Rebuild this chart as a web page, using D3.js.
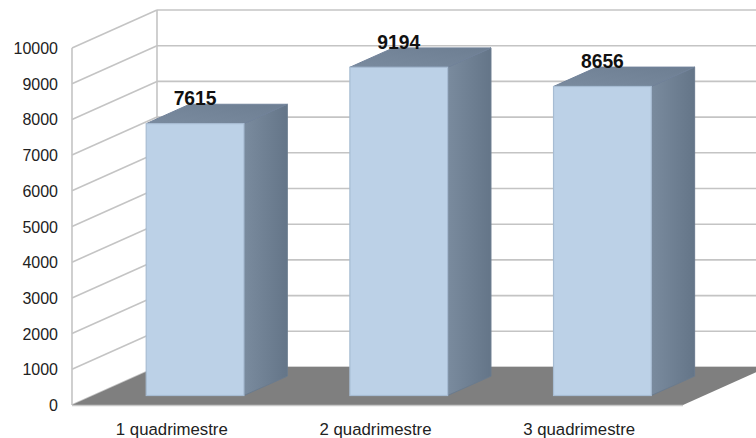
<!DOCTYPE html>
<html><head><meta charset="utf-8">
<script src="https://cdn.jsdelivr.net/npm/d3@7"></script>
<style>body{margin:0;background:#fff}svg{display:block}</style>
</head><body>
<svg id="c" width="756" height="438"></svg>
<script>
const categories = ["1 quadrimestre", "2 quadrimestre", "3 quadrimestre"];
const values = [7615, 9194, 8656];
const yTicks = [0,1000,2000,3000,4000,5000,6000,7000,8000,9000,10000];

const svg = d3.select("#c");
const DX = 85, DY = -38;          // full depth offset
const d0 = 0.25, d1 = 0.76;       // bar depth fraction
const x = d3.scaleBand().domain(categories).range([72, 683]).paddingInner(0.52).paddingOuter(0.26);
const y = d3.scaleLinear().domain([0, 10000]).range([405, 48]);

const defs = svg.append("defs");
const gs = defs.append("linearGradient").attr("id","side").attr("x1","0").attr("x2","1").attr("y1","0").attr("y2","0");
gs.append("stop").attr("offset","0").attr("stop-color","#7a8b9e");
gs.append("stop").attr("offset","1").attr("stop-color","#647588");
const gt = defs.append("linearGradient").attr("id","top").attr("x1","0").attr("x2","1").attr("y1","1").attr("y2","0");
gt.append("stop").attr("offset","0").attr("stop-color","#7a8b9f");
gt.append("stop").attr("offset","1").attr("stop-color","#6d7e92");

const grid = "#c4c4c4";
svg.append("g").selectAll("line").data(yTicks).join("line")
  .attr("x1", 72 + DX).attr("x2", 683 + DX)
  .attr("y1", d => y(d) + DY).attr("y2", d => y(d) + DY)
  .attr("stroke", grid).attr("stroke-width", 1.6);
svg.append("line").attr("x1", 72+DX).attr("x2", 72+DX).attr("y1", y(10000)+DY).attr("y2", y(0)+DY)
  .attr("stroke", grid).attr("stroke-width", 1.6);
svg.append("g").selectAll("line").data(yTicks).join("line")
  .attr("x1", 72).attr("x2", 72 + DX)
  .attr("y1", d => y(d)).attr("y2", d => y(d) + DY)
  .attr("stroke", grid).attr("stroke-width", 1.6);
svg.append("line").attr("x1", 72).attr("x2", 72).attr("y1", y(10000)).attr("y2", y(0))
  .attr("stroke", grid).attr("stroke-width", 1.6);
svg.append("path")
  .attr("d", `M72,${y(0)}L683,${y(0)}L${683+DX},${y(0)+DY}L${72+DX},${y(0)+DY}Z`)
  .attr("fill", "#7f7f7f");
svg.append("line").attr("x1", 72).attr("x2", 683).attr("y1", y(0)+0.5).attr("y2", y(0)+0.5)
  .attr("stroke", "#c8c8c8").attr("stroke-width", 1.6);

svg.append("g").selectAll("text").data(yTicks).join("text")
  .attr("x", 58).attr("y", d => y(d) + 6)
  .attr("text-anchor", "end")
  .attr("font-family", "Liberation Sans, Arial, sans-serif").attr("font-size", 16)
  .attr("fill", "#222").text(d => d);

svg.append("g").selectAll("text").data(categories).join("text")
  .attr("x", d => x(d) + x.bandwidth()/2 - 2).attr("y", 435)
  .attr("text-anchor", "middle")
  .attr("font-family", "Liberation Sans, Arial, sans-serif").attr("font-size", 16.8)
  .attr("fill", "#222").text(d => d);

const bars = svg.append("g").selectAll("g").data(values).join("g");
bars.each(function(v, i) {
  const g = d3.select(this);
  const xl = x(categories[i]) + DX*d0, xr = xl + x.bandwidth();
  const yb = y(0) + DY*d0, yt = y(v) + DY*d0;
  const ddx = DX*(d1-d0), ddy = DY*(d1-d0);
  g.append("path").attr("d", `M${xr},${yt}L${xr+ddx},${yt+ddy}L${xr+ddx},${yb+ddy}L${xr},${yb}Z`)
    .attr("fill", "url(#side)").attr("stroke", "#6a7b8e").attr("stroke-width", 1).attr("stroke-linejoin","round");
  g.append("path").attr("d", `M${xl},${yt}L${xl+ddx},${yt+ddy}L${xr+ddx},${yt+ddy}L${xr},${yt}Z`)
    .attr("fill", "url(#top)").attr("stroke", "#71829a").attr("stroke-width", 1).attr("stroke-linejoin","round");
  g.append("rect").attr("x", xl).attr("y", yt).attr("width", xr-xl).attr("height", yb-yt)
    .attr("fill", "#bcd1e7").attr("stroke", "#a7bcd3").attr("stroke-width", 1.2);
  g.append("text").attr("x", (xl+xr)/2).attr("y", yt + ddy + 1)
    .attr("text-anchor", "middle")
    .attr("font-family", "Liberation Sans, Arial, sans-serif").attr("font-weight", "bold").attr("font-size", 19.3)
    .attr("fill", "#111").text(v);
});
</script>
</body></html>
